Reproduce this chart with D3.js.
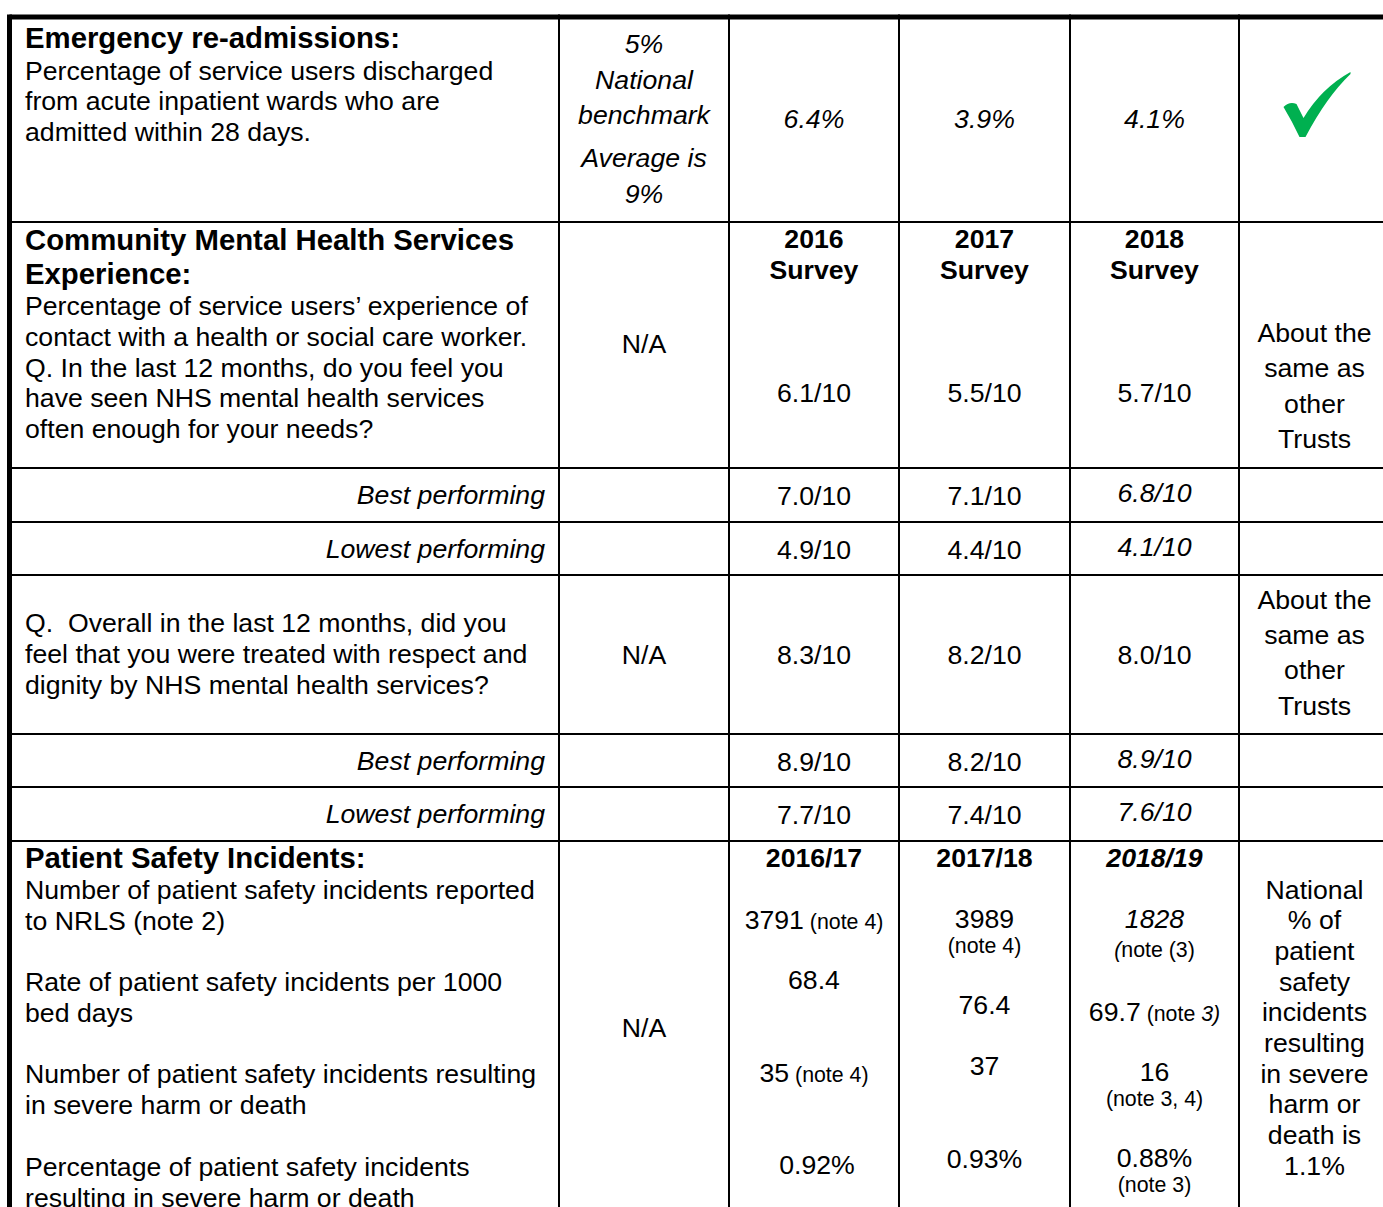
<!DOCTYPE html>
<html>
<head>
<meta charset="utf-8">
<script src="https://cdn.jsdelivr.net/npm/d3@7"></script>
<style>
  body { margin: 0; background: #fff; }
  svg { display: block; font-family: "Liberation Sans", Arial, sans-serif; }
  svg text { white-space: pre; fill: #000; }
</style>
</head>
<body>
<div id="table"></div>
<script>
///////////////////////////////////////////// Data
var columns = ["measure", "benchmark", "y1", "y2", "y3", "compare"]
var rowKeys = ["readmit", "contact", "contactBest", "contactLow", "respect", "respectBest", "respectLow", "safety"]

// Emergency re-admissions
var readmitTitle = "Emergency re-admissions:"
var readmitText = ["Percentage of service users discharged", "from acute inpatient wards who are", "admitted within 28 days."]
var readmitBenchmark = ["5%", "National", "benchmark"]
var readmitAverage = ["Average is", "9%"]
var readmitRates = ["6.4%", "3.9%", "4.1%"]

// Community mental health survey
var contactTitle = ["Community Mental Health Services", "Experience:"]
var contactText = ["Percentage of service users\u2019 experience of", "contact with a health or social care worker.",
    "Q. In the last 12 months, do you feel you", "have seen NHS mental health services", "often enough for your needs?"]
var surveyYears = ["2016", "2017", "2018"]
var contactScores = ["6.1/10", "5.5/10", "5.7/10"]
var contactBest = ["7.0/10", "7.1/10", "6.8/10"]
var contactLowest = ["4.9/10", "4.4/10", "4.1/10"]
var respectText = ["Q.  Overall in the last 12 months, did you", "feel that you were treated with respect and", "dignity by NHS mental health services?"]
var respectScores = ["8.3/10", "8.2/10", "8.0/10"]
var respectBest = ["8.9/10", "8.2/10", "8.9/10"]
var respectLowest = ["7.7/10", "7.4/10", "7.6/10"]
var sameAsOthers = ["About the", "same as", "other", "Trusts"]
var notApplicable = "N/A"

// Patient safety incidents
var safetyTitle = "Patient Safety Incidents:"
var safetyText = [
    ["Number of patient safety incidents reported", "to NRLS (note 2)"],
    ["Rate of patient safety incidents per 1000", "bed days"],
    ["Number of patient safety incidents resulting", "in severe harm or death"],
    ["Percentage of patient safety incidents", "resulting in severe harm or death"]]
var safetyYears = ["2016/17", "2017/18", "2018/19"]
var incidentsReported = ["3791", "3989", "1828"]
var incidentRate = ["68.4", "76.4", "69.7"]
var severeHarmCount = ["35", "37", "16"]
var severeHarmPct = ["0.92%", "0.93%", "0.88%"]
var reportedNotes = ["(note 4)", "(note 4)", "note (3)"]
var rateNotes = ["", "", "(note 3)"]
var severeNotes = ["(note 4)", "", "(note 3, 4)"]
var pctNotes = ["", "", "(note 3)"]
var nationalSevere = ["National", "% of", "patient", "safety", "incidents", "resulting", "in severe", "harm or", "death is", "1.1%"]

///////////////////////////////////////////// Layout
var W = 1383, H = 1207
var FS = 26.67, FS_HEAD = 29.33, FS_NOTE = 21.33, LH = 30.67
var green = "#00b050"

var x = d3.scaleOrdinal().domain(columns.concat("edge")).range([9.5, 559, 729, 899, 1070, 1239, 1390])
var y = d3.scaleOrdinal().domain(rowKeys.concat("edge")).range([17, 222, 468, 522, 575, 734, 787, 841, 1260])
var next = (arr, k) => arr.concat("edge")[arr.indexOf(k) + 1]
var cx = c => (x(c) + x(next(columns, c))) / 2
var yearCols = ["y1", "y2", "y3"]

var svg = d3.select("#table").append("svg")
    .attr("width", W)
    .attr("height", H)

// grid
svg.selectAll(".hline")
    .data(rowKeys)
    .enter().append("line")
        .attr("x1", x("measure"))
        .attr("x2", x("edge"))
        .attr("y1", d => y(d))
        .attr("y2", d => y(d))
        .attr("stroke", "#000")
        .attr("stroke-width", (d, i) => i == 0 ? 5 : 2)

svg.selectAll(".vline")
    .data(columns)
    .enter().append("line")
        .attr("x1", d => x(d))
        .attr("x2", d => x(d))
        .attr("y1", y("readmit") - 2.5)
        .attr("y2", y("edge"))
        .attr("stroke", "#000")
        .attr("stroke-width", (d, i) => i == 0 ? 5 : 2)

// all cell text sits in one group, nudged to sit on the reference baselines
var cells = svg.append("g").attr("transform", "translate(0,-0.8)")

// text helper: parts can be a string or a list of {t, size, italic}
function txt(px, py, parts, o) {
    o = o || {}
    var t = cells.append("text")
        .attr("x", px)
        .attr("y", py)
        .attr("text-anchor", o.anchor || "middle")
        .attr("font-size", o.size || FS)
        .attr("font-weight", o.bold ? "bold" : "normal")
        .attr("font-style", o.italic ? "italic" : "normal");
    (Array.isArray(parts) ? parts : [parts]).forEach(p => {
        if (typeof p === "string") {
            t.append("tspan").text(p)
        } else {
            t.append("tspan")
                .attr("font-size", p.size || null)
                .attr("font-style", p.italic ? "italic" : null)
                .text(p.t)
        }
    })
    return t
}
function lines(px, py, arr, lh, o) {
    arr.forEach((s, i) => txt(px, py + i * lh, s, o))
}
var leftX = 25
var rightX = x("benchmark") - 14

///////////////////////////////////////////// Row: Emergency re-admissions
var top0 = y("readmit")
txt(leftX, top0 + 32, readmitTitle, { anchor: "start", bold: true, size: FS_HEAD })
lines(leftX, top0 + 63.5, readmitText, LH, { anchor: "start" })
lines(cx("benchmark"), top0 + 37, readmitBenchmark, 35.5, { italic: true })
lines(cx("benchmark"), top0 + 151, readmitAverage, 35.5, { italic: true })
yearCols.forEach((c, i) => txt(cx(c), top0 + 112, readmitRates[i], { italic: true }))

// tick mark
var tick = "M0,35 Q6,29 13,32 L20,46 Q38,16 67,0 L67,2 Q43,25 22,65 L16,65 Q9,50 0,35 Z"
svg.append("path")
    .attr("d", tick)
    .attr("fill", green)
    .attr("transform", "translate(" + (cx("compare") - 31) + "," + (top0 + 55) + ")")

///////////////////////////////////////////// Row: Community Mental Health survey
var top1 = y("contact")
lines(leftX, top1 + 29, contactTitle, 34, { anchor: "start", bold: true, size: FS_HEAD })
lines(leftX, top1 + 94, contactText, LH, { anchor: "start" })
txt(cx("benchmark"), top1 + 131.5, notApplicable)
yearCols.forEach((c, i) => {
    lines(cx(c), top1 + 26.5, [surveyYears[i], "Survey"], 31, { bold: true })
    txt(cx(c), top1 + 180.5, contactScores[i])
})
lines(cx("compare"), top1 + 121, sameAsOthers, 35.3)

function rangeRow(key, label, vals) {
    var t = y(key)
    txt(rightX, t + 37, label, { anchor: "end", italic: true })
    yearCols.forEach((c, i) => {
        var last = i == 2
        txt(cx(c), t + (last ? 34.5 : 37.5), vals[i], { italic: last })
    })
}
rangeRow("contactBest", "Best performing", contactBest)
rangeRow("contactLow", "Lowest performing", contactLowest)

var top4 = y("respect")
lines(leftX, top4 + 58, respectText, LH, { anchor: "start" })
txt(cx("benchmark"), top4 + 89.5, notApplicable)
yearCols.forEach((c, i) => txt(cx(c), top4 + 89.5, respectScores[i]))
lines(cx("compare"), top4 + 34.5, sameAsOthers, 35.3)

rangeRow("respectBest", "Best performing", respectBest)
rangeRow("respectLow", "Lowest performing", respectLowest)

///////////////////////////////////////////// Row: Patient safety incidents
var top7 = y("safety")
txt(leftX, top7 + 28, safetyTitle, { anchor: "start", bold: true, size: FS_HEAD })
safetyText.forEach((para, i) => {
    var starts = [59, 151, 243, 336]
    lines(leftX, top7 + starts[i], para, LH, { anchor: "start" })
})
txt(cx("benchmark"), top7 + 196.5, notApplicable)

var note = s => ({ t: s, size: FS_NOTE })
yearCols.forEach((c, i) => txt(cx(c), top7 + 26.5, safetyYears[i], { bold: true, italic: i == 2 }))

// 2016/17
txt(cx("y1"), top7 + 88.5, [incidentsReported[0], note(" " + reportedNotes[0])])
txt(cx("y1"), top7 + 148.5, incidentRate[0])
txt(cx("y1"), top7 + 241.5, [severeHarmCount[0], note(" " + severeNotes[0])])
txt(cx("y1") + 3, top7 + 333.5, severeHarmPct[0])

// 2017/18
txt(cx("y2"), top7 + 87.5, incidentsReported[1])
txt(cx("y2"), top7 + 112.5, reportedNotes[1], { size: FS_NOTE })
txt(cx("y2"), top7 + 173.5, incidentRate[1])
txt(cx("y2"), top7 + 234.5, severeHarmCount[1])
txt(cx("y2"), top7 + 327.5, severeHarmPct[1])

// 2018/19
txt(cx("y3"), top7 + 87.5, incidentsReported[2], { italic: true })
txt(cx("y3"), top7 + 116.5, [{ t: "(", italic: true }, reportedNotes[2]], { size: FS_NOTE })
txt(cx("y3"), top7 + 180.5, [incidentRate[2], note(" " + rateNotes[2].slice(0, 6)), { t: rateNotes[2].slice(6), size: FS_NOTE, italic: true }])
txt(cx("y3"), top7 + 240.5, severeHarmCount[2])
txt(cx("y3"), top7 + 265.5, severeNotes[2], { size: FS_NOTE })
txt(cx("y3"), top7 + 326.5, severeHarmPct[2])
txt(cx("y3"), top7 + 351.5, pctNotes[2], { size: FS_NOTE })

lines(cx("compare"), top7 + 58.5, nationalSevere, LH)
</script>
</body>
</html>
